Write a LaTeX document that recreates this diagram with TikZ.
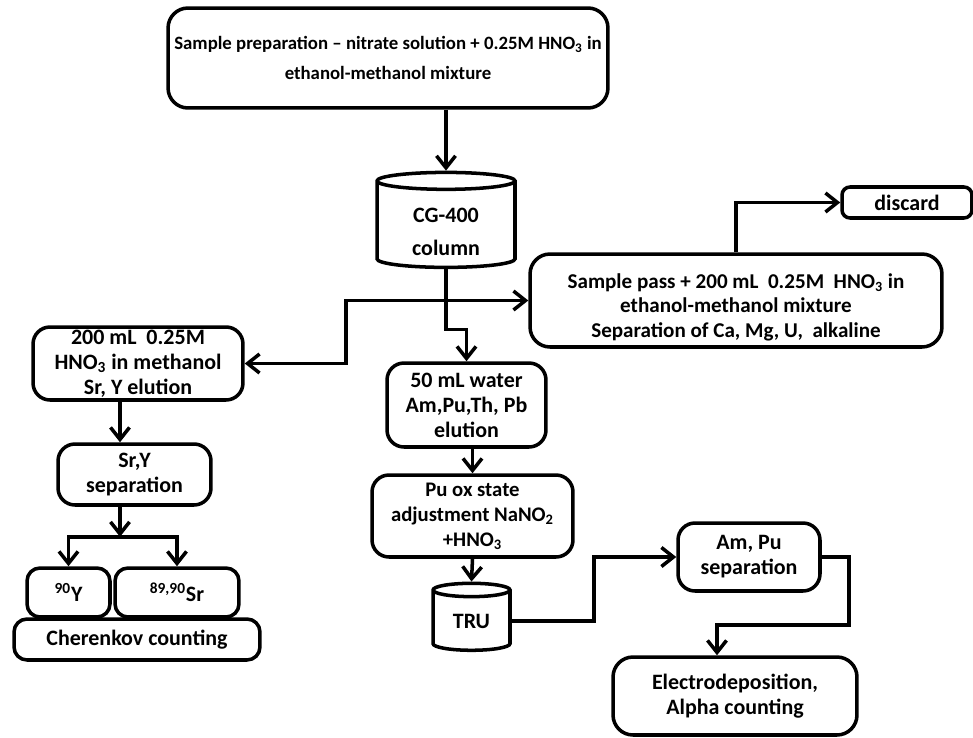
\documentclass[tikz,border=0pt]{standalone}
\usepackage{fontspec}
\setmainfont{Carlito}
\usetikzlibrary{arrows.meta, shapes.geometric, positioning}

% lines of a node, moved down by #1
\newcommand{\lowered}[2]{\raisebox{#1}[\height][\depth]{\begin{tabular}{@{}c@{}}#2\end{tabular}}}

\begin{document}
\begin{tikzpicture}[x=0.02cm, y=-0.02cm,
  every node/.style={font=\fontsize{12.5}{14.2}\selectfont\bfseries, align=center},
  box/.style={draw, line width=2pt, rounded corners=0.34cm, inner sep=0pt},
  column/.style={draw, line width=2pt, cylinder, shape border rotate=90,
                 aspect=0.25, inner sep=0pt},
  arr/.style={line width=2pt, -{Straight Barb[length=2.4mm,width=3.8mm]}}]
  \useasboundingbox (0,0) rectangle (973,737);

  % main line
  \node[box, minimum width=8.8cm, minimum height=2cm, rounded corners=0.4cm,
        font=\fontsize{10.7}{14.2}\selectfont\bfseries] (prep) at (388,58)
    {Sample preparation -- nitrate solution + 0.25M HNO\textsubscript{3} in\\[3pt]ethanol-methanol mixture};
  \node[column, minimum width=2.76cm, minimum height=1.9cm] (cg) at (446,225)
    {\lowered{-0.18cm}{CG-400\\[5pt]column}};
  \node[box, minimum width=8.24cm, minimum height=1.86cm, rounded corners=0.4cm,
        font=\fontsize{12}{14.2}\selectfont\bfseries] (pass) at (736,300.5)
    {\lowered{-0.15cm}{Sample pass + 200 mL\ \ 0.25M\ \ HNO\textsubscript{3} in\\ethanol-methanol mixture\\Separation of Ca, Mg, U,\ \ alkaline}};
  \node[box, minimum width=2.6cm, minimum height=0.62cm, rounded corners=0.16cm] (discard) at (907,202.5) {discard};

  % Sr, Y branch
  \node[box, minimum width=4.2cm, minimum height=1.46cm] (elu) at (138,363.5)
    {200 mL\ \ 0.25M\\HNO\textsubscript{3} in methanol\\Sr, Y elution};
  \node[box, minimum width=3.06cm, minimum height=1.22cm] (sep) at (134.5,474.5)
    {Sr,Y\\separation};
  \node[box, minimum width=1.66cm, minimum height=0.98cm, rounded corners=0.26cm] (y90) at (68.5,592.5)
    {\textsuperscript{90}Y};
  \node[box, minimum width=2.48cm, minimum height=0.98cm, rounded corners=0.26cm] (sr) at (177,592.5)
    {\textsuperscript{89,90}Sr};
  \node[box, minimum width=4.92cm, minimum height=0.82cm, rounded corners=0.26cm] (cher) at (137,639.5)
    {Cherenkov counting};

  % actinides branch
  \node[box, minimum width=3.18cm, minimum height=1.68cm] (water) at (466.5,405)
    {50 mL water\\Am,Pu,Th, Pb\\elution};
  \node[box, minimum width=4.02cm, minimum height=1.64cm,
        font=\fontsize{11.8}{14.2}\selectfont\bfseries] (pu) at (472.5,516)
    {Pu ox state\\adjustment NaNO\textsubscript{2}\\+HNO\textsubscript{3}};
  \node[column, minimum width=1.54cm, minimum height=1.34cm, aspect=0.36] (tru) at (471.5,621)
    {TRU};
  \node[box, minimum width=2.84cm, minimum height=1.36cm] (ampu) at (749,557)
    {Am, Pu\\separation};
  \node[box, minimum width=4.88cm, minimum height=1.56cm, rounded corners=0.4cm] (electro) at (735,696)
    {Electrodeposition,\\Alpha counting};

  % connectors
  \draw[arr] (prep.south -| cg.north) -- (cg.north);
  \coordinate (fork) at (cg.south |- pass.west);
  \draw[arr] (cg.south) |- (pass.west);
  \draw[arr] (fork) -- ++(-100,0) |- (elu.east);
  \draw[arr] (fork) -- ++(0,29) -| (water.north);
  \draw[arr] (pass.north) |- (discard.west);

  \draw[arr] ([xshift=-0.36cm]elu.south) -- ([xshift=-0.36cm]elu.south |- sep.north);
  \draw[arr] ([xshift=-0.29cm]sep.south) -- ++(0,30) coordinate (split);
  \draw[arr] (split) -| (y90.north);
  \draw[arr] (split) -| (sr.north);

  \draw[arr] (water.south -| pu.north) -- (pu.north);
  \draw[arr] (pu.south) -- (tru.north);
  \draw[arr] (tru.east) -- ++(82,0) |- (ampu.west);
  \draw[arr] (ampu.east) -- ++(27,0) -- ++(0,68) -| ([xshift=-0.36cm]electro.north);
\end{tikzpicture}
\end{document}
